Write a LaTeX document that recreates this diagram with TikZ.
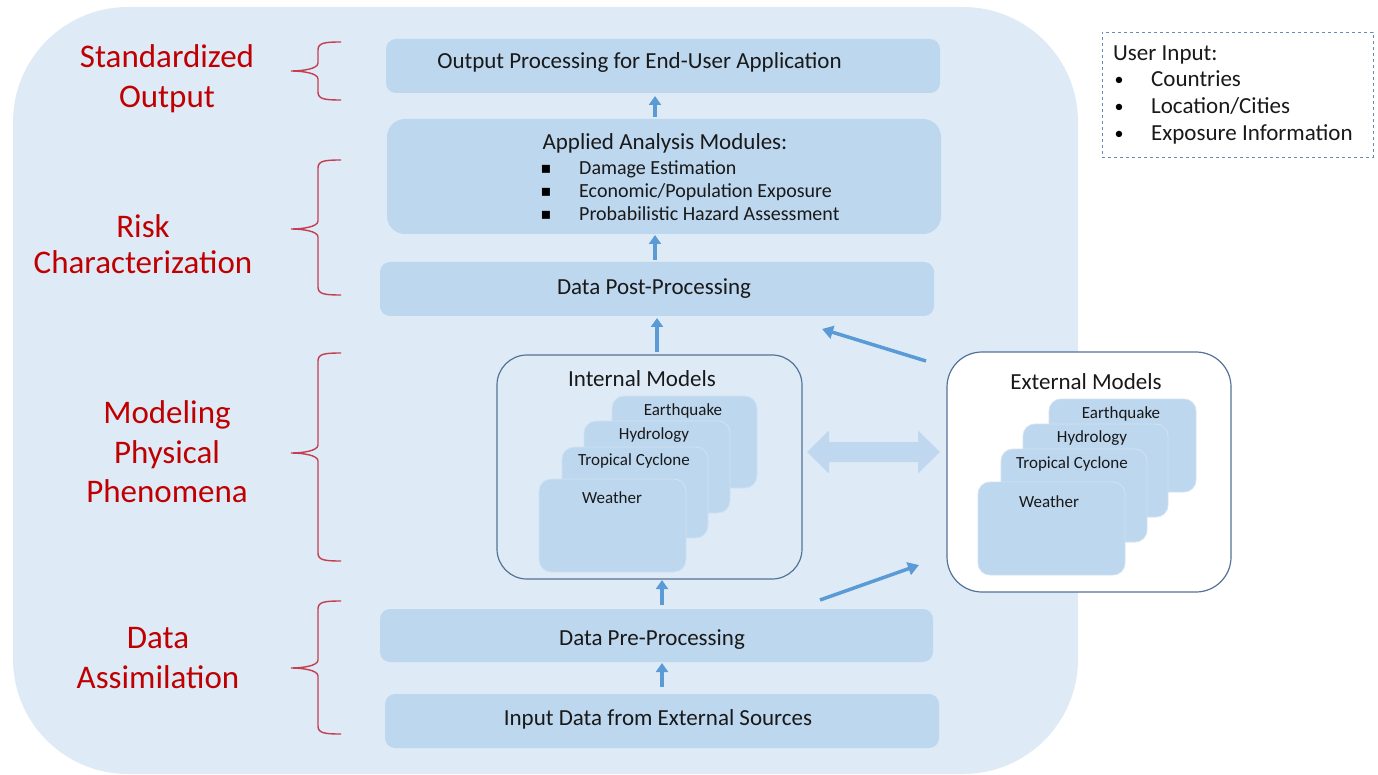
\documentclass[tikz,border=0pt]{standalone}
\usepackage{fontspec}
\setmainfont{Carlito}
\newfontfamily\dejavu{DejaVu Sans}
\usetikzlibrary{arrows.meta}
\definecolor{bgblue}{RGB}{222,235,247}
\definecolor{boxblue}{RGB}{189,215,238}
\definecolor{cardedge}{RGB}{210,226,243}
\definecolor{arrblue}{RGB}{91,155,213}
\definecolor{dblarr}{RGB}{192,216,239}
\definecolor{lblred}{RGB}{192,0,0}
\definecolor{brred}{RGB}{196,62,80}
\definecolor{frame}{RGB}{84,114,150}
\definecolor{dashc}{RGB}{100,140,185}
\definecolor{txt}{RGB}{25,25,25}
\newcommand\myfs[1]{\fontsize{#1}{#1}\selectfont}
\newcommand\mybrace[3]{%
  \draw[bracestyle] (341,#1) .. controls (324,#1) and (318,{#1+1}) .. (318,{#1+8})
    -- (318,{#2-8}) .. controls (318,{#2-2}) and (302,#2) .. (291,#2)
    .. controls (302,#2) and (318,{#2+2}) .. (318,{#2+8})
    -- (318,{#3-8}) .. controls (318,{#3-1}) and (324,#3) .. (341,#3);}
\begin{document}
\begin{tikzpicture}[x=1pt,y=-1pt,
  box/.style={fill=boxblue, draw=none, rounded corners=10pt, inner sep=0pt, outer sep=0pt},
  card/.style={fill=boxblue, draw=cardedge, line width=0.8pt, rounded corners=12pt, inner sep=0pt, outer sep=0pt},
  mtxt/.style={font=\myfs{23}, text=txt, anchor=base, inner sep=0pt},
  itxt/.style={font=\myfs{20}, text=txt, anchor=base west, inner sep=0pt},
  utxt/.style={font=\myfs{23}, text=txt, anchor=base west, inner sep=0pt},
  ubul/.style={font=\myfs{18}, text=black, anchor=base, inner sep=0pt},
  ctxt/.style={font=\myfs{17}, text=txt, anchor=base, inner sep=0pt},
  lbl/.style={font=\myfs{33}, text=lblred, anchor=base, inner sep=0pt},
  sarrow/.style={draw=arrblue, line width=4pt, -{Triangle[width=12pt,length=9pt]}},
  darrow/.style={draw=arrblue, line width=3.5pt, -{Triangle[width=13pt,length=11pt]}},
  bracestyle/.style={draw=brred, line width=1.4pt},
  mbox/.style={rounded corners=#1, line width=1.2pt, inner sep=0pt, outer sep=0pt}
]
\useasboundingbox[fill=white] (0,0) rectangle (1378,775);
% background
\fill[bgblue, rounded corners=115pt] (13,7) rectangle (1078,774);

% left labels
\node[lbl] (l1a) at (167,67.5) {Standardized};
\node[lbl] (l1b) at (167,107.5) {Output};
\node[lbl] (l2a) at (143,237.5) {Risk};
\node[lbl] (l2b) at (143,273.5) {Characterization};
\node[lbl] (l3a) at (167,423.5) {Modeling};
\node[lbl] (l3b) at (167,463.5) {Physical};
\node[lbl] (l3c) at (167,502.5) {Phenomena};
\node[lbl] (l4a) at (158,648.5) {Data};
\node[lbl] (l4b) at (158,688.5) {Assimilation};

% braces
\mybrace{42}{71}{100}
\mybrace{160}{229}{295}
\mybrace{353}{453}{561}
\mybrace{601}{668}{734}

% main boxes
\node[box, minimum width=554pt, minimum height=54pt] (out) at (663,66) {};
\node[mtxt] (outT) at (639.5,68.5) {Output Processing for End-User Application};

\node[box, rounded corners=18pt, minimum width=554pt, minimum height=115pt] (app) at (664,176.5) {};
\node[mtxt] (appT) at (665,149.5) {Applied Analysis Modules:};
\node[itxt] (ap1) at (579,174.5) {Damage Estimation};
\node[itxt] (ap2) at (579,197.5) {Economic/Population Exposure};
\node[itxt] (ap3) at (579,220.5) {Probabilistic Hazard Assessment};
\node[font=\dejavu\fontsize{16}{16}\selectfont, anchor=base, inner sep=0pt] (b1) at (546,173.5) {▪};
\node[font=\dejavu\fontsize{16}{16}\selectfont, anchor=base, inner sep=0pt] (b2) at (546,196.5) {▪};
\node[font=\dejavu\fontsize{16}{16}\selectfont, anchor=base, inner sep=0pt] (b3) at (546,219.5) {▪};

\node[box, minimum width=554pt, minimum height=54pt] (post) at (657,289) {};
\node[mtxt] (postT) at (654,294.5) {Data Post-Processing};

\node[box, minimum width=553pt, minimum height=53pt] (pre) at (656.5,635.5) {};
\node[mtxt] (preT) at (652,645.5) {Data Pre-Processing};

\node[box, minimum width=554pt, minimum height=54pt] (inp) at (662,721) {};
\node[mtxt] (inpT) at (658,725.5) {Input Data from External Sources};

% internal models
\node[mbox=30pt, draw=frame, minimum width=305pt, minimum height=224pt] (int) at (649.5,467) {};
\node[mtxt] (intT) at (642,386.5) {Internal Models};
\node[card, minimum width=145pt, minimum height=92pt] (iq) at (684.5,442) {};
\node[ctxt] (iqT) at (683,415.5) {Earthquake};
\node[card, minimum width=146pt, minimum height=92pt] (ih) at (657,467) {};
\node[ctxt] (ihT) at (654,439.5) {Hydrology};
\node[card, minimum width=146pt, minimum height=91pt] (it) at (635,492.5) {};
\node[ctxt] (itT) at (634,465.5) {Tropical Cyclone};
\node[card, minimum width=147pt, minimum height=93pt] (iw) at (612.5,525.5) {};
\node[ctxt] (iwT) at (612,503.5) {Weather};

% external models
\node[mbox=35pt, draw=frame, fill=white, minimum width=284pt, minimum height=240pt] (ext) at (1089,472) {};
\node[mtxt] (extT) at (1086,389.5) {External Models};
\node[card, minimum width=147pt, minimum height=93pt] (eq) at (1122.5,445.5) {};
\node[ctxt] (eqT) at (1121,418.5) {Earthquake};
\node[card, minimum width=145pt, minimum height=93pt] (eh) at (1095.5,470.5) {};
\node[ctxt] (ehT) at (1092,442.5) {Hydrology};
\node[card, minimum width=146pt, minimum height=93pt] (et) at (1074,495.5) {};
\node[ctxt] (etT) at (1072,468.5) {Tropical Cyclone};
\node[card, minimum width=147pt, minimum height=93pt] (ew) at (1051.5,528.5) {};
\node[ctxt] (ewT) at (1049,507.5) {Weather};

% user input
\node[draw=dashc, dashed, line width=0.8pt, fill=white, minimum width=271pt, minimum height=125pt, inner sep=0pt] (user) at (1237.5,94.5) {};
\node[utxt] (u0) at (1113,60.5) {User Input:};
\node[ubul] (ub1) at (1119,85.5) {•};
\node[ubul] (ub2) at (1119,112.5) {•};
\node[ubul] (ub3) at (1119,139.5) {•};
\node[utxt] (u1) at (1151,86.5) {Countries};
\node[utxt] (u2) at (1151,113.5) {Location/Cities};
\node[utxt] (u3) at (1151,140.5) {Exposure Information};

% vertical arrows
\draw[sarrow] ([xshift=-9pt,yshift=2pt]app.north) -- ([xshift=-8pt,yshift=-3pt]out.south);
\draw[sarrow] ([xshift=-2pt,yshift=2pt]post.north) -- ([xshift=-9pt,yshift=-1pt]app.south);
\draw[sarrow] ([xshift=7.5pt,yshift=3pt]int.north) -- ([xshift=0pt,yshift=-2pt]post.south);
\draw[sarrow] ([xshift=5.5pt,yshift=4pt]pre.north) -- ([xshift=12.5pt,yshift=-1pt]int.south);
\draw[sarrow] ([xshift=0pt,yshift=7pt]inp.north) -- ([xshift=5.5pt,yshift=-1pt]pre.south);

% diagonal arrows
\coordinate (d1s) at (926,361);
\coordinate (d1e) at (822,329);
\coordinate (d2s) at (820,600);
\coordinate (d2e) at (919,565);
\draw[darrow] (d1s) -- (d1e);
\draw[darrow] (d2s) -- (d2e);

% double arrow between internal and external
\fill[dblarr] (807,452) -- (829,430.5) -- (829,442) -- (918,442) -- (918,430.5) -- (940,452)
  -- (918,473.5) -- (918,462) -- (829,462) -- (829,473.5) -- cycle;
\end{tikzpicture}
\end{document}
